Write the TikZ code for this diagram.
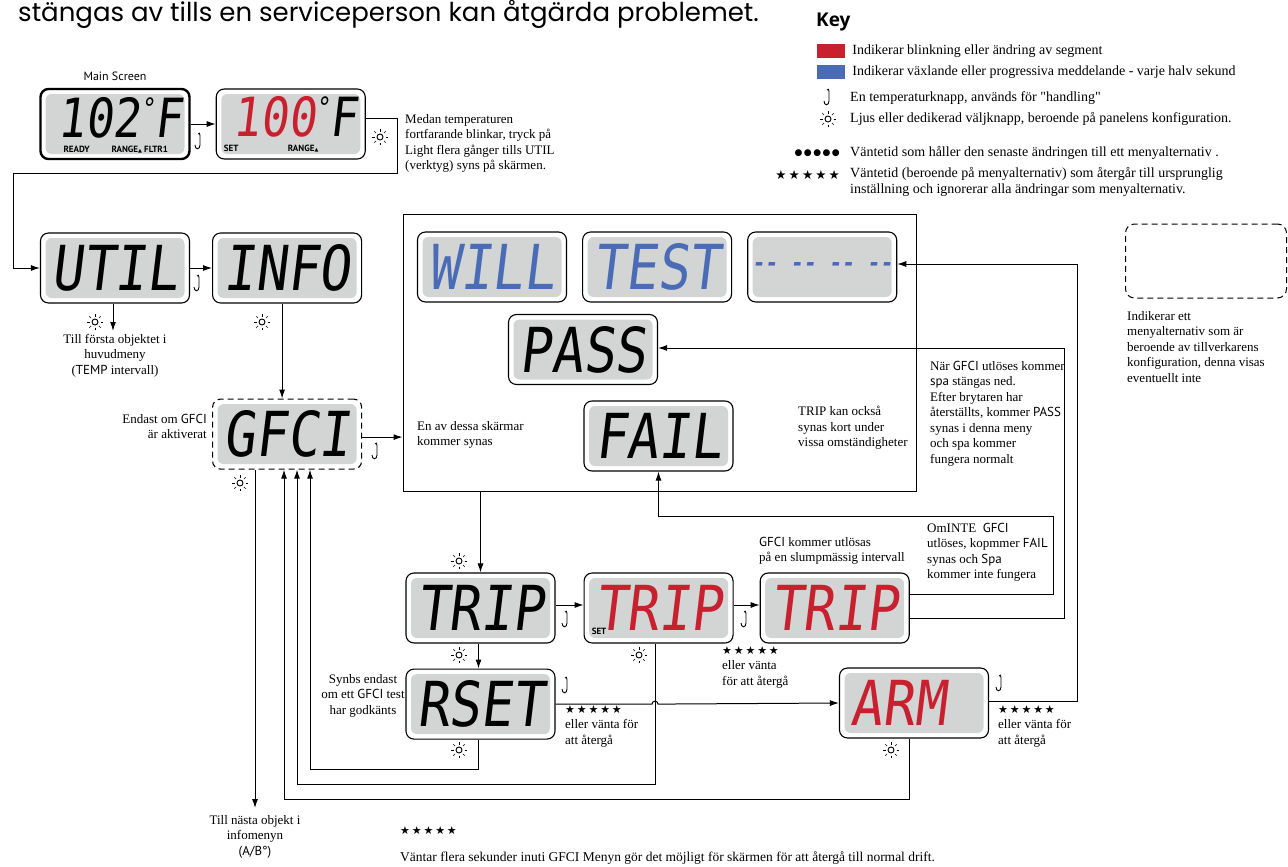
\documentclass[tikz,border=0pt]{standalone}
\usepackage{fontspec}
\setmainfont{Liberation Serif}[Ligatures=TeXOff]
\newfontfamily\titlefont{Poppins}
\newfontfamily\keyfont{Open Sans}
\newfontfamily\labfont{PT Sans}
\newfontfamily\symfont{DejaVu Sans}
\newfontfamily\lcdfont[FakeSlant=0.12,FakeStretch=0.85]{DejaVu Sans Mono}
\usetikzlibrary{positioning,arrows.meta,calc}

\definecolor{lcdgray}{HTML}{D3D4D4}
\definecolor{lcdred}{HTML}{C8202E}
\definecolor{lcdblue}{HTML}{4A6CB6}

\tikzstyle{lcd}=[rectangle, rounded corners=8pt, draw=black, line width=1.1pt, fill=white, minimum width=149pt,
minimum height=70pt, inner sep=0pt, font=\lcdfont\fontsize{62}{62}\selectfont,
path picture={\fill[lcdgray, rounded corners=6pt] ([shift={(5pt,-5pt)}]path picture bounding box.north west) rectangle ([shift={(-5pt,5pt)}]path picture bounding box.south east);}]
\tikzstyle{lcdmain}=[lcd, line width=2.4pt]
\tikzstyle{lcdopt}=[lcd, dashed, dash pattern=on 6pt off 4pt]
\tikzstyle{lcdtxt}=[inner sep=0pt, anchor=base east, font=\lcdfont\fontsize{54}{54}\selectfont]
\tikzstyle{lcdlab}=[inner sep=0pt, anchor=base west, font=\labfont\bfseries\fontsize{9}{9}\selectfont]
\tikzstyle{txt}=[inner sep=0pt, anchor=north west, align=left, font=\fontsize{13}{15.5}\selectfont]
\tikzstyle{keytxt}=[inner sep=0pt, anchor=west, align=left, font=\fontsize{14}{16}\selectfont]
\tikzstyle{keysq}=[rectangle, inner sep=0pt, minimum width=28pt, minimum height=14pt]
\tikzstyle{line}=[-, line width=1pt]
\tikzstyle{arrline}=[-{Latex[length=9pt,width=6pt]}, line width=1pt]

\newcommand{\snm}[1]{{\labfont #1}}
\newcommand{\tri}{{\symfont\fontsize{5}{5}\selectfont ▲}}
\newcommand{\degsign}{\raisebox{19pt}{\fontsize{28}{28}\selectfont °}}
\newcommand{\stars}{{\symfont\fontsize{11}{11}\selectfont ★\,★\,★\,★\,★}}
\newcommand{\sunicon}[1]{\begin{scope}[shift={(#1)}]
  \draw[line width=0.9pt] (0,0) circle[radius=3pt];
  \foreach \a in {0,45,...,315} \draw[line width=0.5pt] (\a:5.5pt) -- (\a:8pt);
\end{scope}}
\newcommand{\hookicon}[1]{\draw[line width=0.9pt, shift={(#1)}] (-2,-8) .. controls (-1,-9.5) and (0,-9) .. (0,-6.5) -- (0,3) .. controls (0,8) and (-5,8) .. (-5,3);}

\begin{document}
\begin{tikzpicture}[x=1pt, y=-1pt]
\useasboundingbox (0,0) rectangle (1288,867);
\fill[white] (0,0) rectangle (1288,867);

    \node (title) [anchor=base west, inner sep=0pt, font=\titlefont\fontsize{26}{26}\selectfont] at (18,22) {stängas av tills en serviceperson kan åtgärda problemet.};

% Key
    \node (keyhead) [anchor=base west, inner sep=0pt, font=\keyfont\bfseries\fontsize{19}{19}\selectfont] at (816,27) {Key};
    \node (keyred) [keysq, fill=lcdred] at (831,51) {};
    \node (keyredtxt) [keytxt, right=7pt of keyred] {Indikerar blinkning eller ändring av segment};
    \node (keyblue) [keysq, fill=lcdblue] at (831,72) {};
    \node (keybluetxt) [keytxt, right=7pt of keyblue] {Indikerar växlande eller progressiva meddelande - varje halv sekund};
    \node (keyhooktxt) [keytxt] at (850,98) {En temperaturknapp, används för "handling"};
    \node (keysuntxt) [keytxt] at (850,119) {Ljus eller dedikerad väljknapp, beroende på panelens konfiguration.};
    \node (keydots) [inner sep=0pt, anchor=east, font=\symfont\fontsize{9}{9}\selectfont] at (840,153) {●\,●\,●\,●\,●};
    \node (keydotstxt) [keytxt] at (850,153) {Väntetid som håller den senaste ändringen till ett menyalternativ .};
    \node (keystars) [inner sep=0pt, anchor=east, font=\symfont\fontsize{12.5}{12.5}\selectfont] at (840,175) {★\,★\,★\,★\,★};
    \node (keystarstxt) [keytxt, anchor=north west] at (850,167) {Väntetid (beroende på menyalternativ) som återgår till ursprunglig\\inställning och ignorerar alla ändringar som menyalternativ.};

    \node (optbox) [rectangle, rounded corners=9pt, draw, dashed, dash pattern=on 6pt off 4pt, line width=1pt, minimum width=161pt, minimum height=74pt] at (1206,261) {};
    \node (opttxt) [txt] at (1127,311) {Indikerar ett\\menyalternativ som är\\beroende av tillverkarens\\konfiguration, denna visas\\eventuellt inte};

% Main screen
    \node (mainscr) [lcdmain] at (115,124) {};
    \node (maindig) [lcdtxt] at ([shift={(-8pt,23pt)}]mainscr.south east) {102\degsign F};
    \node (mainlab) [above=7pt of mainscr, inner sep=0pt, font=\labfont\fontsize{12}{12}\selectfont] {Main Screen};
    \node (mainready) [lcdlab] at ([shift={(24pt,8pt)}]mainscr.south west) {READY};
    \node (mainrange) [lcdlab] at ([shift={(72pt,8pt)}]mainscr.south west) {RANGE\tri\ FLTR1};
    \node (setscr) [lcd, right=25pt of mainscr] {};
    \node (setdig) [lcdtxt] at ([shift={(-8pt,23pt)}]setscr.south east) {\textcolor{lcdred}{100}\degsign F};
    \node (setlab) [lcdlab] at ([shift={(8pt,8pt)}]setscr.south west) {SET};
    \node (setrange) [lcdlab] at ([shift={(72pt,8pt)}]setscr.south west) {RANGE\tri};
    \node (medantxt) [txt] at (405,114) {Medan temperaturen\\fortfarande blinkar, tryck på\\Light flera gånger tills UTIL\\(verktyg) syns på skärmen.};

% Utility menu
    \node (util) [lcd] at (115,268) {UTIL};
    \node (info) [lcd, right=22pt of util] {INFO};
    \node (gfci) [lcdopt, below=95pt of info] {GFCI};
    \coordinate (tofirst) at (113,331);
    \node (firsttxt) [txt, align=center, anchor=north] at (115,334) {Till första objektet i\\huvudmeny\\(\snm{TEMP} intervall)};
    \node (gfcitxt) [txt, align=right, anchor=north east] at (207,414) {Endast om \snm{GFCI}\\är aktiverat};
    \coordinate (tonext) at (255,808);
    \node (nexttxt) [txt, align=center, anchor=north] at (255,815) {Till nästa objekt i\\infomenyn\\\snm{(A/B°)}};

% Test screens
    \node (scrbox) [rectangle, draw, line width=1pt, minimum width=513pt, minimum height=277pt, inner sep=0pt] at (659.5,352.5) {};
    \node (will) [lcd, text=lcdblue] at (492,267) {WILL};
    \node (test) [lcd, text=lcdblue, right=15pt of will] {TEST};
    \node (dashscr) [lcd, text=lcdblue, right=15pt of test, font=\lcdfont\bfseries\fontsize{25}{25}\selectfont] {-- -- -- --};
    \node (pass) [lcd] at (583,349.5) {PASS};
    \node (fail) [lcd] at (658.5,436) {FAIL};
    \node (entxt) [txt] at (417,421) {En av dessa skärmar\\kommer synas};
    \node (triptxt) [txt] at (798,406) {TRIP kan också\\synas kort under\\vissa omständigheter};
    \node (nartxt) [txt] at (930,361) {När \snm{GFCI} utlöses kommer\\\snm{spa} stängas ned.\\Efter brytaren har\\återställts, kommer \snm{PASS}\\synas i denna meny\\och spa kommer\\fungera normalt};

% Trip sequence
    \node (trip) [lcd] at (480.5,608) {TRIP};
    \node (tripset) [lcd, text=lcdred, right=28pt of trip] {TRIP};
    \node (tripsetlab) [lcdlab] at ([shift={(8pt,9pt)}]tripset.south west) {SET};
    \node (triprnd) [lcd, text=lcdred, right=26pt of tripset] {TRIP};
    \node (rset) [lcd, below=25pt of trip] {RSET};
    \node (arm) [lcd, text=lcdred] at (914,703) {ARM\phantom{M}};
    \node (randtxt) [txt] at (759,537) {\snm{GFCI} kommer utlösas\\på en slumpmässig intervall};
    \node (failtxt) [txt] at (927,523) {OmINTE\ \ \snm{GFCI}\\utlöses, kopmmer \snm{FAIL}\\synas och \snm{Spa}\\kommer inte fungera};
    \node (synbstxt) [txt, align=center, anchor=north] at (363,674) {Synbs endast\\om ett \snm{GFCI} test\\har godkänts};
    \node (tripstars) [txt] at (722,646) {\stars\\eller vänta\\för att återgå};
    \node (rsetstars) [txt] at (565,705) {\stars\\eller vänta för\\att återgå};
    \node (armstars) [txt] at (998,705) {\stars\\eller vänta för\\att återgå};

    \node (botstars) [inner sep=0pt, anchor=west] at (400,831) {\stars};
    \node (bottxt) [inner sep=0pt, anchor=west, font=\fontsize{13.5}{15}\selectfont] at (400,858) {Väntar flera sekunder inuti GFCI Menyn gör det möjligt för skärmen för att återgå till normal drift.};

% Buttons
    \hookicon{829,98}  \sunicon{828,119}
    \hookicon{200,142} \sunicon{380,137}
    \hookicon{199,284} \sunicon{95,322} \sunicon{262,322}
    \hookicon{377,452} \sunicon{240,483}
    \sunicon{459,561} \hookicon{567,620} \hookicon{746,620}
    \sunicon{459,655} \sunicon{639,655}
    \hookicon{567,686} \hookicon{1001,684}
    \sunicon{459,750} \sunicon{891,750}

% Connectors
    \coordinate (c1) at (397,173);
    \coordinate (c2) at (13,173);
    \draw[arrline] (mainscr.east) -- (setscr.west);
    \draw[arrline] ([yshift=6pt]setscr.east) -| (c1) -- (c2) |- (util.west);
    \draw[arrline] (util.east) -- (info.west);
    \draw[arrline] (util.south -| tofirst) -- (tofirst);
    \draw[arrline] ([xshift=-5pt]info.south) -- ([xshift=-5pt]gfci.north);
    \draw[arrline] ([yshift=-3pt]gfci.east) -- ([yshift=-3pt]gfci.east -| scrbox.west);
    \draw[arrline] (gfci.south -| tonext) -- (tonext);
    \draw[arrline] (scrbox.south -| trip.north) -- (trip.north);
    \draw[arrline] ([yshift=3pt]trip.east) -- ([yshift=3pt]tripset.west);
    \draw[arrline] ([yshift=3pt]tripset.east) -- ([yshift=3pt]triprnd.west);
    \draw[arrline] ([xshift=-2pt]trip.south) -- ([xshift=-2pt]rset.north);

    \coordinate (r2) at (310,769);
    \coordinate (t2) at (297,784);
    \coordinate (a2) at (284,799);
    \draw[arrline] ([xshift=-2pt]rset.south) |- (r2) -- (r2 |- gfci.south);
    \draw[arrline] ([xshift=-3pt]tripset.south) |- (t2) -- (t2 |- gfci.south);
    \draw[arrline] ([xshift=-5pt]arm.south) |- (a2) -- (a2 |- gfci.south);

    \coordinate (hopa) at (652,703);
    \draw[arrline] (rset.east) -- (rset.east -| hopa) arc[start angle=180, end angle=0, radius=3pt] -- (arm.west);

    \coordinate (f1) at (1053,516);
    \coordinate (p1) at (1064,348);
    \coordinate (d1) at (1077,264);
    \draw[arrline] ([yshift=14pt]triprnd.east) -| (f1) -| (fail.south);
    \draw[arrline] ([yshift=-10pt]triprnd.east) -| (p1) -- (p1 -| pass.east);
    \draw[arrline] ([yshift=2pt]arm.east) -| (d1) -- (d1 -| dashscr.east);

\end{tikzpicture}
\end{document}
